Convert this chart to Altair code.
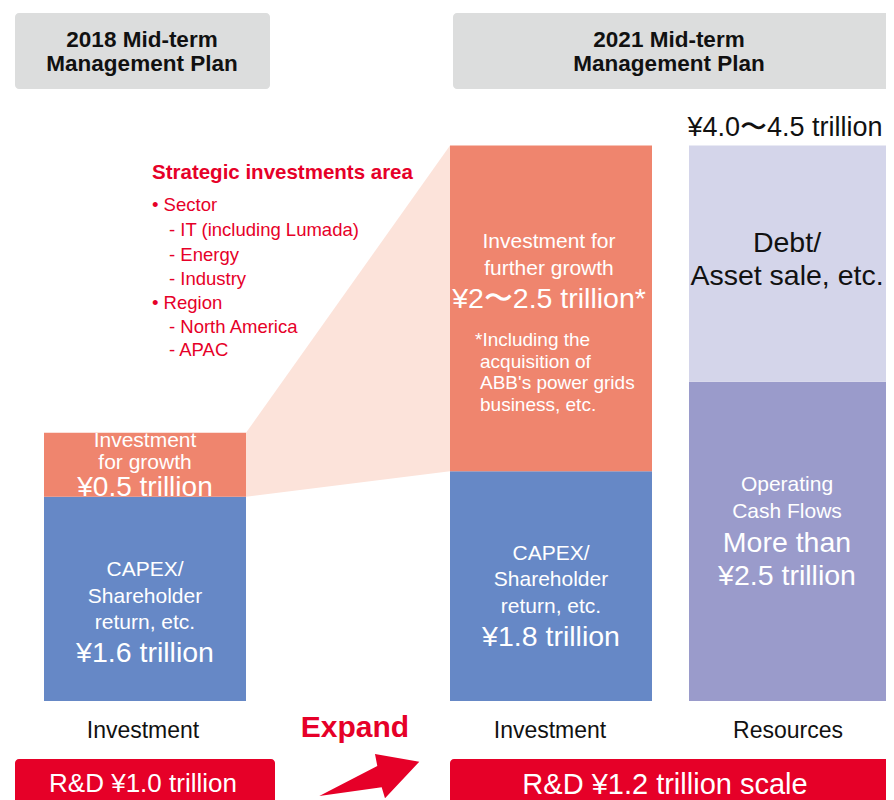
import altair as alt
import pandas as pd

# ---------------- data ----------------
bar_names = ["2018 Investment", "2018 Investment",
             "2021 Investment", "2021 Investment",
             "2021 Resources", "2021 Resources"]
segment_names = ["CAPEX 2018", "Growth 2018",
                 "CAPEX 2021", "Growth 2021",
                 "Operating CF", "Debt/Asset sale"]
segment_values = [1.6, 0.5, 1.8, 2.55, 2.5, 1.85]   # trillion yen (bar heights)
segment_colors = ["#6688C6", "#EF856E", "#6688C6", "#EF856E", "#9A9BCB", "#D4D5EA"]

header_titles = [["2018 Mid-term", "Management Plan"], ["2021 Mid-term", "Management Plan"]]
total_label = "¥4.0〜4.5 trillion"
strategic_title = "Strategic investments area"
strategic_lines = ["• Sector", "- IT (including Lumada)", "- Energy", "- Industry",
                   "• Region", "- North America", "- APAC"]
bar1_growth_text = ["Investment", "for growth", "¥0.5 trillion"]
bar1_capex_text = ["CAPEX/", "Shareholder", "return, etc.", "¥1.6 trillion"]
bar2_growth_text = ["Investment for", "further growth", "¥2〜2.5 trillion*"]
bar2_note_text = ["*Including the", "acquisition of", "ABB's power grids", "business, etc."]
bar2_capex_text = ["CAPEX/", "Shareholder", "return, etc.", "¥1.8 trillion"]
bar3_debt_text = ["Debt/", "Asset sale, etc."]
bar3_ocf_text = ["Operating", "Cash Flows", "More than", "¥2.5 trillion"]
category_labels = ["Investment", "Investment", "Resources"]
expand_label = "Expand"
rd_labels = ["R&D ¥1.0 trillion", "R&D ¥1.2 trillion scale"]

# ---------------- layout ----------------
W, H = 878, 792
OFF = 8  # page margin
PX_PER_TRILLION = 127.7
BASE = 701 - OFF
bar_slots = {"2018 Investment": (44, 246), "2021 Investment": (450, 652), "2021 Resources": (689, 892)}
RED = "#E60028"
FONT = "Liberation Sans"
MED, BIG = 21, 28.5

rows = []
cum = {}
for b, s, v, c in zip(bar_names, segment_names, segment_values, segment_colors):
    start = cum.get(b, 0.0)
    end = start + v
    cum[b] = end
    l, r = bar_slots[b]
    rows.append(dict(bar=b, segment=s, start=start, end=end, color=c,
                     left=l - OFF, right=min(r - OFF, W)))
bars = pd.DataFrame(rows)

xscale = alt.Scale(domain=[0, W], range=[0, W], nice=False, zero=False)
yscale = alt.Scale(domain=[-(H - BASE) / PX_PER_TRILLION, BASE / PX_PER_TRILLION],
                   nice=False, zero=False)

bar_layer = alt.Chart(bars).mark_rect().encode(
    x=alt.X("left:Q", scale=xscale, axis=None),
    x2="right:Q",
    y=alt.Y("start:Q", scale=yscale, axis=None),
    y2="end:Q",
    color=alt.Color("segment:N", scale=alt.Scale(domain=segment_names, range=segment_colors), legend=None),
)

g1 = bars[bars.segment == "Growth 2018"].iloc[0]
g2 = bars[bars.segment == "Growth 2021"].iloc[0]
trap = pd.DataFrame({"x": [g1.right, g2.left], "lo": [g1.start, g2.start], "hi": [g1.end, g2.end]})
trap_layer = alt.Chart(trap).mark_area(color="#FCE3DA", opacity=1).encode(
    x=alt.X("x:Q", scale=xscale, axis=None),
    y=alt.Y("lo:Q", scale=yscale, axis=None),
    y2="hi:Q",
)

one = pd.DataFrame({"d": [0]})


def box(x1, y1, x2, y2, color, r=4):
    return alt.Chart(one).mark_rect(color=color, cornerRadius=r).encode(
        x=alt.value(x1 - OFF), x2=alt.value(min(x2 - OFF, W + 10)),
        y=alt.value(y1 - OFF), y2=alt.value(y2 - OFF))


def txt(t, x, y, size, color="#FFFFFF", bold=False, align="center"):
    return alt.Chart(one).mark_text(
        text=t, fontSize=size, color=color, font=FONT,
        fontWeight="bold" if bold else "normal", align=align, baseline="middle"
    ).encode(x=alt.value(x - OFF), y=alt.value(y - OFF))


layers = [trap_layer, bar_layer]
layers.append(box(15, 13, 270, 89, "#DCDDDD"))
layers.append(box(453, 13, 890, 89, "#DCDDDD"))
layers.append(box(15, 759, 275, 830, RED))
layers.append(box(450, 759, 892, 830, RED))

# headers
for (l1, l2), cx in zip(header_titles, [142, 669]):
    layers.append(txt(l1, cx, 40, 22.5, "#111111", bold=True))
    layers.append(txt(l2, cx, 64, 22.5, "#111111", bold=True))
layers.append(txt(total_label, 785, 128, 27, "#111111"))

# strategic investments area
layers.append(txt(strategic_title, 152, 173, 20.5, RED, bold=True, align="left"))
for t, y in zip(strategic_lines, [205, 230, 255, 279, 303, 327, 350]):
    xx = 152 if t.startswith("•") else 169
    layers.append(txt(t, xx, y, 18.5, RED, align="left"))

# bar texts
for t, y, s in zip(bar1_growth_text, [441, 463, 488], [MED, MED, 28]):
    layers.append(txt(t, 145, y, s))
for t, y, s in zip(bar1_capex_text, [570, 597, 623, 653], [MED, MED, MED, BIG]):
    layers.append(txt(t, 145, y, s))
for t, y, s in zip(bar2_growth_text, [242, 269, 299], [MED, MED, BIG]):
    layers.append(txt(t, 549, y, s))
for t, y in zip(bar2_note_text, [340, 362, 383, 405]):
    layers.append(txt(t, 475 if t.startswith("*") else 480, y, 19, align="left"))
for t, y, s in zip(bar2_capex_text, [554, 580, 607, 637], [MED, MED, MED, BIG]):
    layers.append(txt(t, 551, y, s))
for t, y in zip(bar3_debt_text, [243, 276]):
    layers.append(txt(t, 787, y, 28.5, "#111111"))
for t, y, s in zip(bar3_ocf_text, [485, 512, 543, 576], [MED, MED, BIG, BIG]):
    layers.append(txt(t, 787, y, s))

# category labels
for t, cx in zip(category_labels, [143, 550, 788]):
    layers.append(txt(t, cx, 731, 23, "#111111"))
layers.append(txt(expand_label, 355, 728, 30, RED, bold=True))
layers.append(txt(rd_labels[0], 143, 784, 26))
layers.append(txt(rd_labels[1], 665, 785, 29))

# arrow
arrow_path = "M -0.988 0.398 L 0.165 -0.199 L 0.119 -0.437 L 1 -0.284 L 0.318 0.443 L 0.252 0.225 Z"
layers.append(alt.Chart(one).mark_point(shape=arrow_path, filled=True, size=10120,
                                        color=RED, opacity=1, strokeWidth=0).encode(
    x=alt.value(369 - OFF), y=alt.value(776 - OFF)))

chart = alt.layer(*layers).properties(
    width=W, height=H, padding=0, autosize=alt.AutoSizeParams(type="none")
).configure_view(stroke=None)

chart.save("out.html", embed_options={"renderer": "svg", "actions": False})
